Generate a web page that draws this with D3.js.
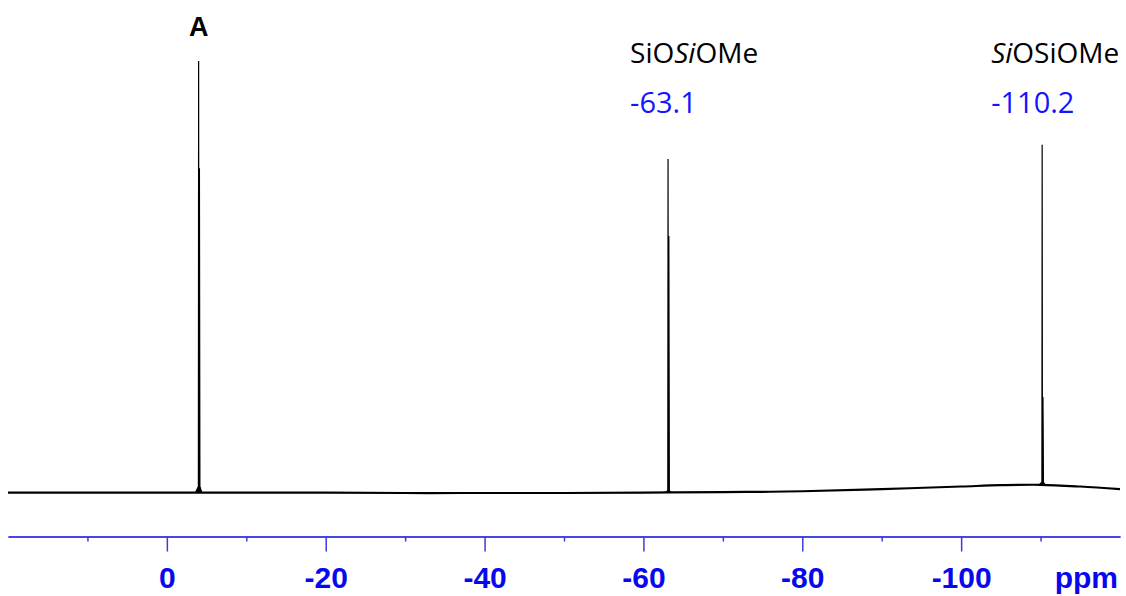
<!DOCTYPE html>
<html>
<head>
<meta charset="utf-8">
<script src="https://cdn.jsdelivr.net/npm/d3@7"></script>
<style>
  html, body { margin: 0; padding: 0; background: #fff; }
  svg { display: block; }
</style>
</head>
<body>
<svg id="chart" width="1126" height="596"></svg>
<script>
// ---- data ----
const baselinePpm = [20, 10, 0, -10, -20, -30, -40, -50, -60, -70, -80, -90, -100, -105, -110, -115, -120];
const baselineInt = [0.1, 0.1, 0.1, 0.1, 0.1, 0.0, 0.0, 0.0, 0.1, 0.2, 0.4, 0.9, 1.5, 1.8, 1.9, 1.5, 0.9];
const peakPpm = [-4.0, -63.1, -110.2];
const peakHeight = [100, 77.3, 80.6];
const peakShoulder = [75.2, 59.5, 22.2];
const peakFoot = [1.4, 0.4, 0.6];
const peakNames = ["A", "SiOSiOMe", "SiOSiOMe"];
const peakValueLabels = ["", "-63.1", "-110.2"];
const majorTicks = [0, -20, -40, -60, -80, -100];
const minorTicks = [10, -10, -30, -50, -70, -90, -110];
const axisUnit = "ppm";

// ---- scales ----
const svg = d3.select("#chart");
const x = d3.scaleLinear().domain([20, -120]).range([8, 1120]);
const y = d3.scaleLinear().domain([0, 100]).range([493, 61]);
const baseAt = d3.scaleLinear().domain(baselinePpm).range(baselineInt);

// ---- baseline ----
const line = d3.line().x(d => x(d[0])).y(d => y(d[1]));
const smoothLine = d3.line().x(d => x(d[0])).y(d => y(d[1])).curve(d3.curveCatmullRom);
const basePts = baselinePpm.map((p, i) => [p, baselineInt[i]]);
svg.append("path")
  .attr("d", smoothLine(basePts))
  .attr("fill", "none")
  .attr("stroke", "#000")
  .attr("stroke-width", 2.2);

// ---- peaks ----
peakPpm.forEach((p, i) => {
  const b = baseAt(p);
  const pts = [
    [p + 0.4, b],
    [p + 0.03, b + peakFoot[i]],
    [p, peakHeight[i]],
    [p - 0.03, b + peakFoot[i]],
    [p - 0.10, peakShoulder[i]],
    [p - 0.16, b + peakFoot[i]],
    [p - 0.4, b]
  ];
  svg.append("path")
    .attr("d", line(pts))
    .attr("fill", "#000")
    .attr("stroke", "#000")
    .attr("stroke-width", 1.2)
    .attr("stroke-linejoin", "bevel");
});

// ---- axis ----
const axisY = 536.5;
const axisColor = "#3c3cdc";
const labelColor = "#0808ee";
const axisFont = "'Liberation Sans', Arial, sans-serif";
const gMajor = svg.append("g").attr("transform", `translate(0,${axisY})`)
  .call(d3.axisBottom(x).tickValues(majorTicks).tickSize(15).tickSizeOuter(0).tickFormat(d3.format("d")));
const gMinor = svg.append("g").attr("transform", `translate(0,${axisY})`)
  .call(d3.axisBottom(x).tickValues(minorTicks).tickSize(5).tickSizeOuter(0).tickFormat(""));
[gMajor, gMinor].forEach(g => {
  g.select(".domain").attr("stroke", axisColor).attr("stroke-width", 1.5);
  g.selectAll(".tick line").attr("stroke", axisColor).attr("stroke-width", 1.5);
});
gMajor.selectAll(".tick text")
  .attr("y", 51.5).attr("dy", 0)
  .attr("fill", labelColor)
  .style("font-family", axisFont)
  .style("font-weight", "bold")
  .style("font-size", "30px")
  .text(d => d === 0 ? "0" : "-" + Math.abs(d));
svg.append("text")
  .attr("x", 1118).attr("y", axisY + 51.5)
  .attr("text-anchor", "end")
  .attr("fill", labelColor)
  .style("font-family", axisFont)
  .style("font-weight", "bold")
  .style("font-size", "30px")
  .text(axisUnit);

// ---- peak labels ----
svg.append("text")
  .attr("x", x(peakPpm[0])).attr("y", 36)
  .attr("text-anchor", "middle")
  .style("font-family", axisFont)
  .style("font-weight", "bold")
  .style("font-size", "27px")
  .text(peakNames[0]);

const labelFont = "'Open Sans', 'Noto Sans', sans-serif";
const labelOffset = [0, 38, 51];
function nameLabel(px, parts) {
  const t = svg.append("text").attr("x", px).attr("y", 63)
    .style("font-family", labelFont).style("font-size", "28px").attr("fill", "#000");
  parts.forEach(([s, it]) => t.append("tspan").style("font-style", it ? "italic" : "normal").text(s));
}
nameLabel(x(peakPpm[1]) - labelOffset[1], [["SiO", false], ["Si", true], ["OMe", false]]);
nameLabel(x(peakPpm[2]) - labelOffset[2], [["Si", true], ["OSiOMe", false]]);

[1, 2].forEach(i => {
  svg.append("text")
    .attr("x", x(peakPpm[i]) - labelOffset[i]).attr("y", 113)
    .style("font-family", labelFont).style("font-size", "29px")
    .attr("fill", "#1414ff")
    .text(peakValueLabels[i]);
});
</script>
</body>
</html>
